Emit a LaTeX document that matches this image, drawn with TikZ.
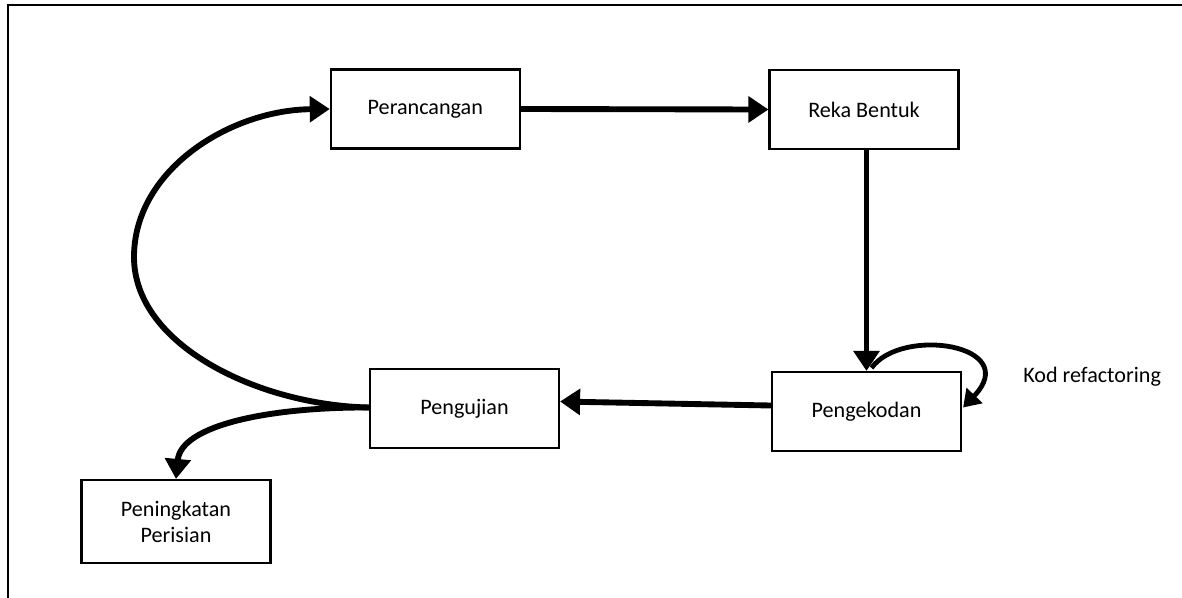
\documentclass[tikz,border=0pt]{standalone}
\usepackage{fontspec}
\setmainfont{Carlito}
\usetikzlibrary{arrows.meta,calc}
\begin{document}
\begin{tikzpicture}[x=0.75pt,y=-0.75pt,
  box/.style={draw,line width=1.6pt,inner sep=0pt,minimum width=141.75pt,minimum height=59.25pt,font=\fontsize{16.6}{19.5}\selectfont,align=center},
  flow/.style={line width=4.4pt,-{Triangle[length=15pt,width=19pt]}},
  thinflow/.style={line width=3.6pt,-{Triangle[length=12.5pt,width=16pt]}},
  lbl/.style={font=\fontsize{16.6}{19.5}\selectfont,inner sep=0pt,anchor=west}]
\useasboundingbox (0,0) rectangle (1182,597);
\fill[white] (0,0) rectangle (1182,597);
% frame
\draw[line width=1.9pt] (8,600) -- (8,5) -- (1185,5);
% nodes
\node[box] (Pr) at (425.3,109) {Perancangan};
\node[box] (Rb) at (864,109.5) {Reka Bentuk};
\node[box] (Pk) at (866.5,411.5) {Pengekodan};
\node[box] (Pu) at (464.5,408.5) {Pengujian};
\node[box,minimum height=62.25pt] (Pi) at (176,521.5) {Peningkatan\\Perisian};
\node[lbl] (Kr) at (1023,377) {Kod refactoring};
% connector anchor points
\coordinate (rbS) at (Rb.south -| Pk.north);
\coordinate (pkW) at ($(Pk.west)+(0,-6)$);
\coordinate (puE) at ($(Pu.east)+(0,-7)$);
\coordinate (puW) at ($(Pu.west)+(0,-1)$);
\coordinate (pkTop) at ($(Pk.north)+(5,-3)$);
\coordinate (pkR) at ($(Pk.east)+(1,-4)$);
% connectors
\draw[flow] (Pr.east) -- (Rb.west);
\draw[flow] (rbS) -- (Pk.north);
\draw[flow] (pkW) -- (puE);
\draw[flow] (puW) .. controls (258,405) and (134,345) .. (134,257)
                  .. controls (134,170) and (230,110) .. (Pr.west);
\draw[flow] (puW) .. controls (270,407) and (181,425) .. (Pi.north);
\draw[thinflow] (pkTop) .. controls (902,326) and (1023,345) .. (pkR);
\end{tikzpicture}
\end{document}
